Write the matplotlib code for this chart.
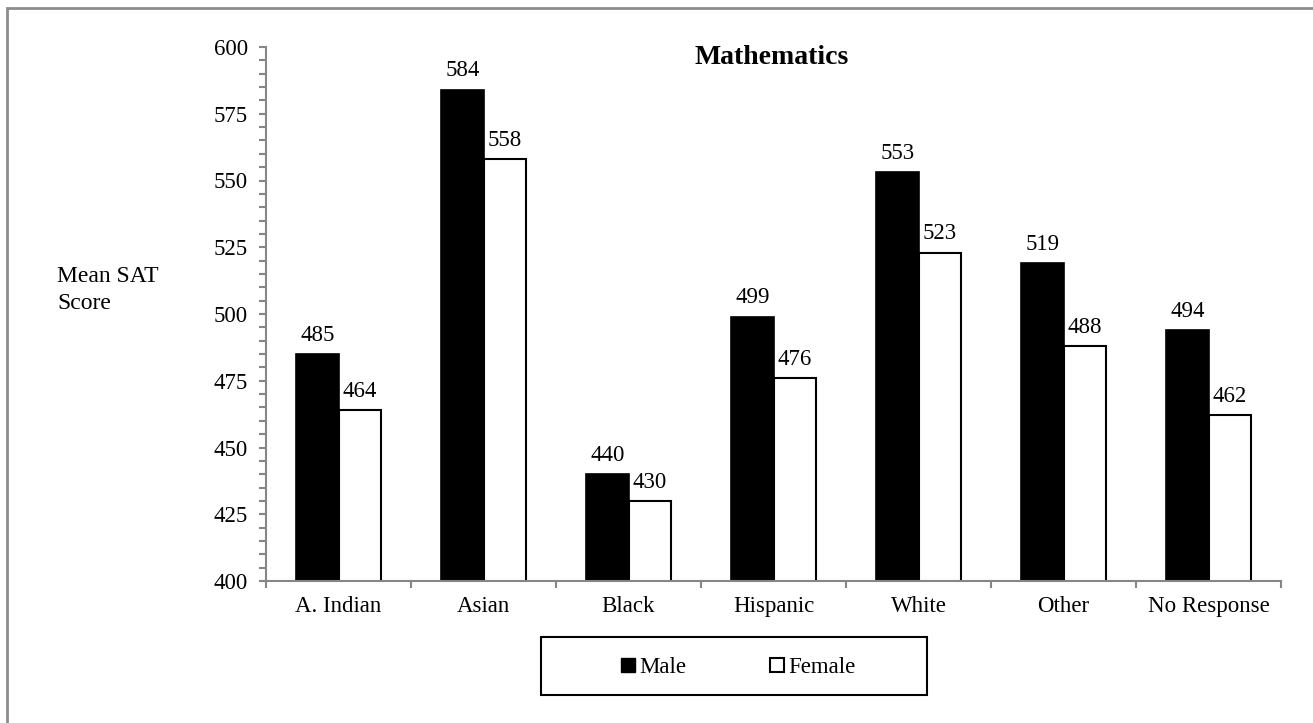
import numpy as np
import matplotlib.pyplot as plt
from matplotlib.lines import Line2D
from matplotlib.patches import Rectangle
from matplotlib.ticker import MultipleLocator

plt.rcParams["font.family"] = ["Liberation Serif", "DejaVu Serif"]

# data
groups = ["A. Indian", "Asian", "Black", "Hispanic", "White", "Other", "No Response"]
male = [485, 584, 440, 499, 553, 519, 494]
female = [464, 558, 430, 476, 523, 488, 462]

W, H = 1313, 723
fig = plt.figure(figsize=(W / 100, H / 100), dpi=100)
ax = fig.add_axes([266 / W, 1 - 581 / H, (1281 - 266) / W, (581 - 47) / H])

fs = 16.5
x = np.arange(len(groups)) + 0.5
bw = 0.29
ax.bar(x - bw / 2, male, bw, color="black", edgecolor="black", linewidth=1.2)
ax.bar(x + bw / 2, female, bw, color="white", edgecolor="black", linewidth=1.5)

for xi, m, f in zip(x, male, female):
    ax.annotate(str(m), (xi - bw / 2, m), xytext=(0, 6), textcoords="offset points",
                ha="center", va="bottom", fontsize=fs)
    ax.annotate(str(f), (xi + bw / 2, f), xytext=(0, 6), textcoords="offset points",
                ha="center", va="bottom", fontsize=fs)

ax.set_xlim(0, len(groups))
ax.set_ylim(400, 600)
ax.set_xticks(np.arange(len(groups) + 1))
ax.set_xticklabels([])
ax.set_xticks(x, minor=True)
ax.set_xticklabels(groups, minor=True, fontsize=fs)
ax.tick_params(axis="x", which="minor", length=0, pad=11)
ax.tick_params(axis="x", which="major", length=5, width=1.5, color="#868686")
ax.yaxis.set_major_locator(MultipleLocator(25))
ax.yaxis.set_minor_locator(MultipleLocator(5))
ax.tick_params(axis="y", which="both", length=5, width=1.5, color="#868686", labelsize=fs, pad=8)
for s in ["top", "right"]:
    ax.spines[s].set_visible(False)
for s in ["left", "bottom"]:
    ax.spines[s].set_color("#868686")
    ax.spines[s].set_linewidth(1.5)

fig.text(849 / W, 1 - 58 / H, "Mathematics", ha="right", va="center",
         fontsize=20, fontweight="bold")
fig.text(57 / W, 1 - 290 / H, "Mean SAT\nScore", ha="left", va="center",
         fontsize=17, linespacing=1.35)

# legend box
fig.patches.append(Rectangle((541 / W, 1 - 695 / H), 386 / W, 58 / H,
                             transform=fig.transFigure, fill=False,
                             edgecolor="black", linewidth=1.5))
handles = [
    Line2D([], [], linestyle="none", marker="s", markersize=10,
           markerfacecolor="black", markeredgecolor="black"),
    Line2D([], [], linestyle="none", marker="s", markersize=10,
           markerfacecolor="white", markeredgecolor="black", markeredgewidth=1.5),
]
fig.legend(handles, ["Male", "Female"], loc="center",
           bbox_to_anchor=(738 / W, 1 - 667 / H), ncol=2, frameon=False,
           fontsize=fs, handlelength=0.7, handletextpad=0.15, columnspacing=3.6)

# outer border
fig.patches.append(Rectangle((7 / W, -0.05), 1.1, 1 - 8 / H + 0.05,
                             transform=fig.transFigure, fill=False,
                             edgecolor="#8c8c8c", linewidth=2))

fig.savefig("out.png", dpi=100)
